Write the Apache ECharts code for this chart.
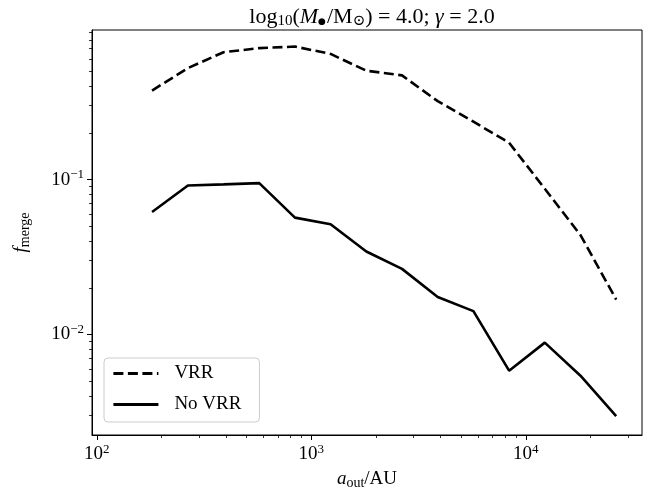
<!DOCTYPE html>
<html>
<head>
<meta charset="utf-8">
<script src="https://cdn.jsdelivr.net/npm/echarts@6/dist/echarts.min.js"></script>
<style>
html, body { margin: 0; padding: 0; background: #fff; }
#chart { width: 662px; height: 495px; }
</style>
</head>
<body>
<div id="chart"></div>
<script>
// a_out in AU
var aOut = [181, 266, 390, 572, 839, 1230, 1805, 2648, 3884, 5697, 8356, 12258, 17980, 26375];
// merger fractions
var fVRR = [0.376, 0.525, 0.665, 0.706, 0.723, 0.648, 0.505, 0.471, 0.321, 0.2365, 0.173, 0.0872, 0.0438, 0.0168];
var fNoVRR = [0.0618, 0.0915, 0.0931, 0.0948, 0.0568, 0.0515, 0.0343, 0.0265, 0.01746, 0.01413, 0.00583, 0.00885, 0.00541, 0.00297];

// ticks
var xMajor = [100, 1000, 10000];
var xMinor = [200, 300, 400, 500, 600, 700, 800, 900, 2000, 3000, 4000, 5000, 6000, 7000, 8000, 9000, 20000, 30000];
var yMajor = [0.01, 0.1];
var yMinor = [0.003, 0.004, 0.005, 0.006, 0.007, 0.008, 0.009, 0.02, 0.03, 0.04, 0.05, 0.06, 0.07, 0.08, 0.09, 0.2, 0.3, 0.4, 0.5, 0.6, 0.7, 0.8, 0.9];

var serif = '"Liberation Serif", "DejaVu Serif", serif';
var fs = 19;

function pairs(xs, ys) {
    return xs.map(function (x, i) { return [x, ys[i]]; });
}

function powLabel(v) {
    var e = Math.round(Math.log10(v));
    return '{b|10}{s|' + String(e).replace('-', '\u2212') + '}';
}

var tickRich = {
    b: { fontFamily: serif, fontSize: fs, color: '#000' },
    s: { fontFamily: serif, fontSize: 13, color: '#000', padding: [0, 0, 10, 0] }
};

var myChart = echarts.init(document.getElementById('chart'));

var option = {
    animation: false,
    backgroundColor: '#fff',
    title: {
        text: '{n|log}{sub|10}{n|(}{i|M}{dot|\u25cf}{n|/M}{sub|\u2299}{n|) = 4.0; }{i|\u03b3}{n| = 2.0}',
        left: 367,
        top: 0,
        textAlign: 'center',
        textStyle: {
            fontWeight: 'normal',
            rich: {
                n: { fontFamily: serif, fontSize: 22, fontWeight: 'normal', color: '#000' },
                i: { fontFamily: serif, fontSize: 22, fontStyle: 'italic', fontWeight: 'normal', color: '#000' },
                sub: { fontFamily: serif, fontSize: 15, fontWeight: 'normal', color: '#000', padding: [9, 0, 0, 0] },
                dot: { fontFamily: '"DejaVu Sans", sans-serif', fontSize: 9, color: '#000', padding: [9, 1, 0, 0] }
            }
        }
    },
    grid: {
        left: 92,
        right: 20,
        top: 30,
        bottom: 57,
        show: true,
        borderColor: '#000',
        borderWidth: 1
    },
    legend: {
        orient: 'vertical',
        left: 104,
        top: 358,
        data: ['VRR', 'No VRR'],
        itemWidth: 45,
        itemHeight: 20,
        itemGap: 12,
        padding: [6, 18, 8, 8],
        borderColor: '#cccccc',
        borderWidth: 1,
        borderRadius: 4,
        backgroundColor: 'rgba(255,255,255,0.8)',
        itemStyle: { opacity: 0 },
        lineStyle: { width: 2.8 },
        textStyle: { fontFamily: serif, fontSize: fs, color: '#000', padding: [0, 0, 0, 11] }
    },
    xAxis: [{
        type: 'log',
        logBase: 10,
        min: 95,
        max: 34800,
        position: 'bottom',
        name: '{i|a}{sub|out}{n|/AU}',
        nameLocation: 'middle',
        nameGap: 33,
        nameTextStyle: {
            rich: {
                n: { fontFamily: serif, fontSize: fs, color: '#000' },
                i: { fontFamily: serif, fontSize: fs, fontStyle: 'italic', color: '#000' },
                sub: { fontFamily: serif, fontSize: 14, color: '#000', padding: [8, 0, 0, 0] }
            }
        },
        axisLine: { show: true, lineStyle: { color: '#000', width: 1 } },
        axisTick: { show: true, length: 5, lineStyle: { color: '#000', width: 1 }, customValues: xMajor },
        axisLabel: { formatter: powLabel, margin: 8, customValues: xMajor, rich: tickRich },
        splitLine: { show: false }
    }, {
        type: 'log',
        logBase: 10,
        min: 95,
        max: 34800,
        position: 'bottom',
        axisLine: { show: false },
        axisTick: { show: true, length: 3, lineStyle: { color: '#000', width: 0.8 }, customValues: xMinor },
        axisLabel: { show: false },
        splitLine: { show: false }
    }],
    yAxis: [{
        type: 'log',
        logBase: 10,
        min: 0.00224,
        max: 0.925,
        position: 'left',
        name: '{i|f}{sub|merge}',
        nameLocation: 'middle',
        nameGap: 60,
        nameTextStyle: {
            rich: {
                i: { fontFamily: serif, fontSize: fs, fontStyle: 'italic', color: '#000' },
                sub: { fontFamily: serif, fontSize: 14, color: '#000', padding: [8, 0, 0, 0] }
            }
        },
        axisLine: { show: true, lineStyle: { color: '#000', width: 1 } },
        axisTick: { show: true, length: 5, lineStyle: { color: '#000', width: 1 }, customValues: yMajor },
        axisLabel: { formatter: powLabel, margin: 8, customValues: yMajor, rich: tickRich },
        splitLine: { show: false }
    }, {
        type: 'log',
        logBase: 10,
        min: 0.00224,
        max: 0.925,
        position: 'left',
        axisLine: { show: false },
        axisTick: { show: true, length: 3, lineStyle: { color: '#000', width: 0.8 }, customValues: yMinor },
        axisLabel: { show: false },
        splitLine: { show: false }
    }],
    series: [{
        name: 'VRR',
        type: 'line',
        symbol: 'none',
        xAxisIndex: 0,
        yAxisIndex: 0,
        lineStyle: { color: '#000', width: 2.6, type: [10, 4.5] },
        itemStyle: { color: '#000' },
        data: pairs(aOut, fVRR)
    }, {
        name: 'No VRR',
        type: 'line',
        symbol: 'none',
        xAxisIndex: 0,
        yAxisIndex: 0,
        lineStyle: { color: '#000', width: 2.6 },
        itemStyle: { color: '#000' },
        data: pairs(aOut, fNoVRR)
    }]
};

myChart.setOption(option);
</script>
</body>
</html>
